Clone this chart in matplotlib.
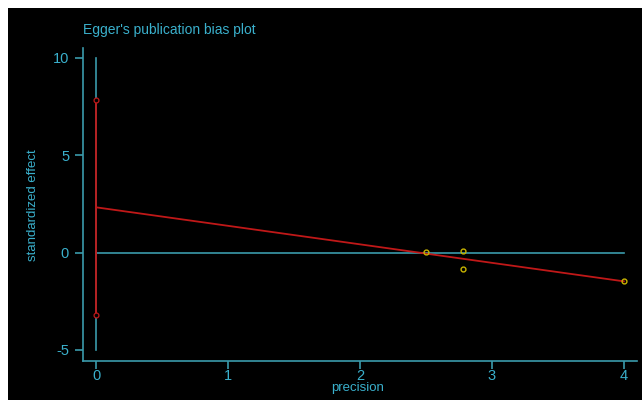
import matplotlib
matplotlib.use("Agg")
import matplotlib.pyplot as plt
from matplotlib.patches import Rectangle

plt.rcParams["font.family"] = ["Liberation Sans", "DejaVu Sans"]
plt.rcParams["axes.unicode_minus"] = False

# Data
precision = [2.50, 2.78, 2.78, 4.00]
std_effect = [0.02, 0.08, -0.84, -1.48]
intercept = 2.32
slope = -0.95
ci_low, ci_high = -3.2, 7.85
ref_low, ref_high = -5, 10
xticks = [0, 1, 2, 3, 4]
yticks = [-5, 0, 5, 10]
title = "Egger's publication bias plot"
xlabel = "precision"
ylabel = "standardized effect"

AXC = "#3a9aab"
TXC = "#3ab0cc"
RED = "#c01818"
YEL = "#c8b400"

fig = plt.figure(figsize=(6.42, 4.00), dpi=100, facecolor="white")
fig.patches.append(Rectangle((8/642, 0), 1, (400-8)/400, transform=fig.transFigure,
                             facecolor="black", edgecolor="none", zorder=-10))

W, H = 642, 400
left, right, top, bottom = 83, 637, 48, 361
ax = fig.add_axes([left/W, 1-bottom/H, (right-left)/W, (bottom-top)/H])
ax.set_facecolor("black")
ax.patch.set_alpha(0)
ax.set_xlim(-0.1, 4.1)
ax.set_ylim(-5.57, 10.5)

for s in ["top", "right"]:
    ax.spines[s].set_visible(False)
for s in ["left", "bottom"]:
    ax.spines[s].set_color(AXC)
    ax.spines[s].set_linewidth(1.2)

ax.set_xticks(xticks)
ax.set_yticks(yticks)
ax.tick_params(axis="both", colors=AXC, labelcolor=TXC, length=6, width=1.2,
               labelsize=10.5, direction="out")
ax.tick_params(axis="x", pad=0)
ax.tick_params(axis="y", pad=4)

# reference lines
ax.plot([0, 0], [ref_low, ref_high], color=AXC, lw=1.2, zorder=1)
ax.plot([0, max(precision)], [0, 0], color=AXC, lw=1.2, zorder=1)

# CI on intercept
ax.plot([0, 0], [ci_low, ci_high], color=RED, lw=1.3, zorder=2)
ax.plot([0, 0], [ci_low, ci_high], linestyle="none", marker="o", ms=3.5,
        mfc="black", mec=RED, mew=0.9, zorder=3)

# regression line
xr = [0, max(precision)]
ax.plot(xr, [intercept + slope * x for x in xr], color=RED, lw=1.3, zorder=2)

# studies
ax.plot(precision, std_effect, linestyle="none", marker="o", ms=3.5,
        mfc="none", mec=YEL, mew=1, zorder=4)

fig.text(left/W, 1-30/H, title, color=TXC, fontsize=10, ha="left", va="center")
fig.text(358/W, 1-388/H, xlabel, color=TXC, fontsize=9.5, ha="center", va="center")
fig.text(33/W, 1-205/H, ylabel, color=TXC, fontsize=9.5, ha="center", va="center",
         rotation=90)

fig.savefig("out.png", dpi=100, facecolor=fig.get_facecolor())
